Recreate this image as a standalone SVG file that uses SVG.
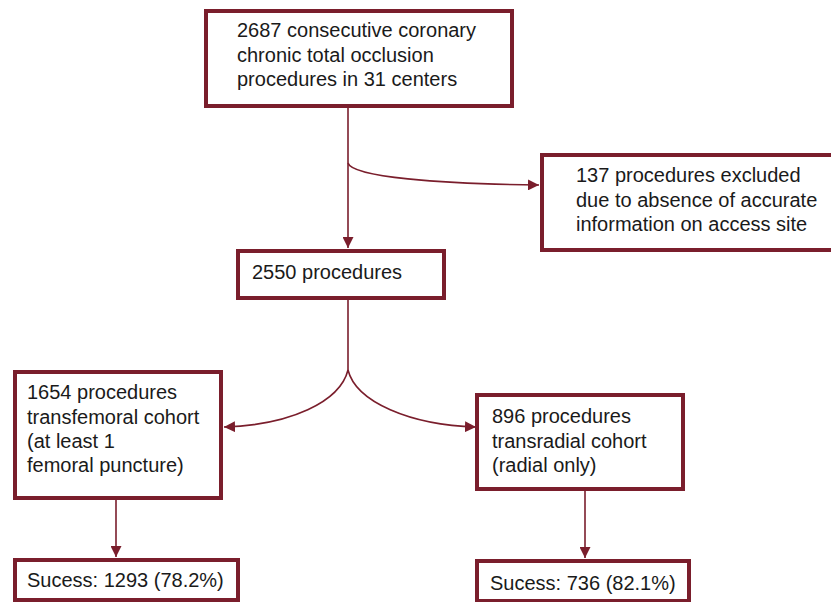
<svg xmlns="http://www.w3.org/2000/svg" width="831" height="602" viewBox="0 0 831 602">
<style>
.box{fill:#fff;stroke:#7a1e2c;stroke-width:4}
.t{font-family:"Liberation Sans",Arial,sans-serif;font-size:20px;fill:#1a1a1a}
.c{fill:none;stroke:#7a1e2c;stroke-width:1.6}
</style>
<defs>
<marker id="ah" viewBox="0 0 10 10" refX="10" refY="5" markerWidth="11" markerHeight="11" markerUnits="userSpaceOnUse" orient="auto">
<path d="M0,0 L10,5 L0,10 Z" fill="#7a1e2c"/>
</marker>
</defs>
<rect width="831" height="602" fill="#fff"/>
<g id="connectors">
<path class="c" d="M348,107 L348,248" marker-end="url(#ah)"/>
<path class="c" d="M348,163 C352,177 440,184 539,185" marker-end="url(#ah)"/>
<path class="c" d="M348,299 L348,370"/>
<path class="c" d="M348,370 C340,402 290,425 224,427" marker-end="url(#ah)"/>
<path class="c" d="M348,370 C356,402 410,425 476,427" marker-end="url(#ah)"/>
<path class="c" d="M116,499 L116,557" marker-end="url(#ah)"/>
<path class="c" d="M585,490 L585,558" marker-end="url(#ah)"/>
</g>
<g id="n1">
<rect class="box" x="206" y="11" width="306" height="95"/>
<text class="t" x="237" y="37">2687 consecutive coronary</text>
<text class="t" x="237" y="62">chronic total occlusion</text>
<text class="t" x="237" y="86">procedures in 31 centers</text>
</g>
<g id="n2">
<rect class="box" x="542" y="155" width="292" height="95"/>
<text class="t" x="576" y="182">137 procedures excluded</text>
<text class="t" x="576" y="207">due to absence of accurate</text>
<text class="t" x="576" y="231">information on access site</text>
</g>
<g id="n3">
<rect class="box" x="238" y="251" width="206" height="47"/>
<text class="t" x="252" y="279">2550 procedures</text>
</g>
<g id="n4">
<rect class="box" x="15" y="372" width="206" height="126"/>
<text class="t" x="27" y="399">1654 procedures</text>
<text class="t" x="27" y="424">transfemoral cohort</text>
<text class="t" x="27" y="448">(at least 1</text>
<text class="t" x="27" y="472">femoral puncture)</text>
</g>
<g id="n5">
<rect class="box" x="477" y="395" width="206" height="94"/>
<text class="t" x="492" y="423">896 procedures</text>
<text class="t" x="492" y="448">transradial cohort</text>
<text class="t" x="492" y="472">(radial only)</text>
</g>
<g id="n6">
<rect class="box" x="15" y="560" width="223" height="40"/>
<text class="t" x="27" y="587">Sucess: 1293 (78.2%)</text>
</g>
<g id="n7">
<rect class="box" x="477" y="561" width="212" height="40"/>
<text class="t" x="490" y="590">Sucess: 736 (82.1%)</text>
</g>
</svg>
